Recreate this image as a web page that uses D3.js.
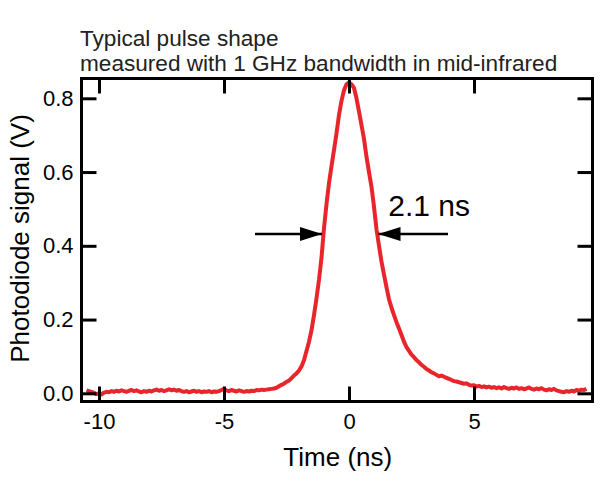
<!DOCTYPE html>
<html>
<head>
<meta charset="utf-8">
<script src="https://cdn.jsdelivr.net/npm/d3@7/dist/d3.min.js"></script>
<style>
  html, body { margin: 0; padding: 0; background: #fff; }
  svg { display: block; }
  text { font-family: "Liberation Sans", Arial, sans-serif; }
</style>
</head>
<body>
<svg id="chart" width="613" height="481"></svg>
<script>
const titleLines = ["Typical pulse shape", "measured with 1 GHz bandwidth in mid-infrared"];
const xLabel = "Time (ns)";
const yLabel = "Photodiode signal (V)";
const annotation = "2.1 ns";
const xTicks = [-10, -5, 0, 5];
const yTicks = [0.0, 0.2, 0.4, 0.6, 0.8];
const xTickLabels = ["-10", "-5", "0", "5"];
const yTickLabels = ["0.0", "0.2", "0.4", "0.6", "0.8"];
const xDomain = [-10.7, 9.74];
const yDomain = [-0.0222, 0.8537];
const fwhmLevel = 0.432;
const fwhmEdges = [-1.0, 1.1];
const arrowOuter = [-3.76, 3.96];

const time = [
-10.5,-10.4,-10.3,-10.2,-10.1,-10.0,-9.9,-9.8,-9.7,-9.6,-9.5,-9.4,-9.3,-9.2,-9.1,-9.0,-8.9,-8.8,-8.7,-8.6,
-8.5,-8.4,-8.3,-8.2,-8.1,-8.0,-7.9,-7.8,-7.7,-7.6,-7.5,-7.4,-7.3,-7.2,-7.1,-7.0,-6.9,-6.8,-6.7,-6.6,
-6.5,-6.4,-6.3,-6.2,-6.1,-6.0,-5.9,-5.8,-5.7,-5.6,-5.5,-5.4,-5.3,-5.2,-5.1,-5.0,-4.9,-4.8,-4.7,-4.6,
-4.5,-4.4,-4.3,-4.2,-4.1,-4.0,-3.9,-3.8,-3.7,-3.6,-3.5,-3.4,-3.3,-3.2,-3.1,-3.0,
-2.9,-2.8,-2.7,-2.6,-2.5,-2.4,-2.3,-2.2,-2.1,-2.0,-1.9,-1.8,-1.7,-1.6,-1.5,-1.4,-1.3,-1.2,-1.1,-1.0,
-0.9,-0.8,-0.7,-0.6,-0.5,-0.4,-0.3,-0.2,-0.1,0.0,
0.1,0.2,0.3,0.4,0.5,0.6,0.7,0.8,0.9,1.0,1.1,1.2,1.3,1.4,1.5,1.6,1.7,1.8,1.9,2.0,
2.1,2.2,2.3,2.4,2.5,2.6,2.7,2.8,2.9,3.0,3.1,3.2,3.3,3.4,3.5,3.6,3.7,3.8,3.9,4.0,4.1,4.2,4.3,
4.4,4.5,4.6,4.7,4.8,4.9,5.0,5.1,5.2,5.3,5.4,5.5,5.6,5.7,5.8,5.9,6.0,6.1,6.2,6.3,
6.4,6.5,6.6,6.7,6.8,6.9,7.0,7.1,7.2,7.3,7.4,7.5,7.6,7.7,7.8,7.9,8.0,8.1,8.2,8.3,
8.4,8.5,8.6,8.7,8.8,8.9,9.0,9.1,9.2,9.3,9.4,9.5
];

const signal = [
0.008,0.006,0.004,0.001,-0.002,0.000,-0.003,0.002,0.004,0.003,0.006,0.004,0.007,0.005,0.008,0.006,0.004,0.007,0.009,0.006,
0.008,0.005,0.003,0.006,0.004,0.007,0.005,0.008,0.010,0.007,0.009,0.006,0.008,0.011,0.008,0.010,0.007,0.009,0.006,0.004,
0.006,0.003,0.005,0.007,0.004,0.006,0.003,0.005,0.004,0.006,0.003,0.005,0.004,0.006,0.009,0.012,0.008,0.006,0.009,0.007,
0.005,0.008,0.006,0.004,0.006,0.005,0.007,0.006,0.009,0.008,0.010,0.009,0.010,0.011,0.012,0.013,
0.015,0.019,0.023,0.026,0.031,0.035,0.041,0.048,0.054,0.062,0.073,0.090,0.115,0.140,0.171,0.212,0.258,0.308,0.368,0.448,
0.513,0.570,0.616,0.660,0.705,0.755,0.793,0.822,0.838,0.843,
0.838,0.828,0.800,0.764,0.727,0.690,0.641,0.600,0.560,0.506,0.445,0.400,0.357,0.322,0.287,0.255,0.232,0.212,0.193,0.176,
0.158,0.140,0.125,0.115,0.105,0.098,0.090,0.084,0.077,0.072,0.066,0.062,0.057,0.054,0.050,0.046,0.048,0.045,0.042,0.039,0.036,0.033,0.032,
0.030,0.028,0.026,0.027,0.023,0.021,0.022,0.018,0.020,0.017,0.019,0.016,0.018,0.015,0.017,0.014,0.016,0.013,0.017,0.014,
0.012,0.015,0.013,0.016,0.012,0.014,0.011,0.013,0.016,0.012,0.010,0.013,0.011,0.014,0.010,0.008,0.011,0.009,0.012,0.008,
0.006,0.004,0.003,0.006,0.004,0.007,0.005,0.009,0.007,0.010,0.009,0.012
];

const W = 613, H = 481;
const margin = { left: 81.5, right: W - 592.5, top: 78.5, bottom: H - 401.5 };
const iw = W - margin.left - margin.right;
const ih = H - margin.top - margin.bottom;

const svg = d3.select("#chart");
const g = svg.append("g").attr("transform", `translate(${margin.left},${margin.top})`);

const x = d3.scaleLinear().domain(xDomain).range([0, iw]);
const y = d3.scaleLinear().domain(yDomain).range([ih, 0]);

// title
svg.append("g").selectAll("text").data(titleLines).join("text")
  .attr("x", 80)
  .attr("y", (d, i) => 46 + i * 25)
  .attr("fill", "#222")
  .style("font-size", "22.6px")
  .text(d => d);

// data line
const pts = time.map((t, i) => [t, signal[i]]);
g.append("path")
  .datum(pts)
  .attr("fill", "none")
  .attr("stroke", "#e8252b")
  .attr("stroke-width", 4)
  .attr("stroke-linejoin", "round")
  .attr("d", d3.line().x(d => x(d[0])).y(d => y(d[1])));

// axes
const styleAxis = sel => {
  sel.select(".domain").remove();
  sel.selectAll(".tick line").attr("stroke", "#000").attr("stroke-width", 3);
  sel.selectAll(".tick text").attr("fill", "#000").style("font-size", "22px")
     .style("font-family", '"Liberation Sans", Arial, sans-serif');
};

g.append("g").attr("transform", `translate(0,${ih})`)
  .call(d3.axisBottom(x).tickValues(xTicks).tickSize(-15).tickPadding(12)
        .tickFormat((d, i) => xTickLabels[i]))
  .call(styleAxis);
g.append("g")
  .call(d3.axisTop(x).tickValues(xTicks).tickSize(-15).tickFormat(""))
  .call(styleAxis);
g.append("g")
  .call(d3.axisLeft(y).tickValues(yTicks).tickSize(-15).tickPadding(8)
        .tickFormat((d, i) => yTickLabels[i]))
  .call(styleAxis);
g.append("g").attr("transform", `translate(${iw},0)`)
  .call(d3.axisRight(y).tickValues(yTicks).tickSize(-15).tickFormat(""))
  .call(styleAxis);

// frame
g.append("rect").attr("width", iw).attr("height", ih)
  .attr("fill", "none").attr("stroke", "#000").attr("stroke-width", 3);

// axis titles
svg.append("text")
  .attr("x", margin.left + x(-0.45)).attr("y", 466)
  .attr("text-anchor", "middle").attr("fill", "#000")
  .style("font-size", "26px").text(xLabel);
svg.append("text")
  .attr("transform", `translate(29,${margin.top + y(0.42)}) rotate(-90)`)
  .attr("text-anchor", "middle").attr("fill", "#000")
  .style("font-size", "26px").text(yLabel);

// annotation arrows
const defs = svg.append("defs");
defs.append("marker").attr("id", "ah")
  .attr("viewBox", "0 0 22 14").attr("refX", 22).attr("refY", 7)
  .attr("markerUnits", "userSpaceOnUse")
  .attr("markerWidth", 22).attr("markerHeight", 14).attr("orient", "auto")
  .append("path").attr("d", "M0,0 L22,7 L0,14 Z").attr("fill", "#000");

const ay = y(fwhmLevel);
g.append("line")
  .attr("x1", x(arrowOuter[0])).attr("x2", x(fwhmEdges[0]) - 2)
  .attr("y1", ay).attr("y2", ay)
  .attr("stroke", "#000").attr("stroke-width", 2.5).attr("marker-end", "url(#ah)");
g.append("line")
  .attr("x1", x(arrowOuter[1])).attr("x2", x(fwhmEdges[1]) + 2)
  .attr("y1", ay).attr("y2", ay)
  .attr("stroke", "#000").attr("stroke-width", 2.5).attr("marker-end", "url(#ah)");

g.append("text")
  .attr("x", x(1.57)).attr("y", y(0.48))
  .attr("fill", "#000").style("font-size", "30px")
  .text(annotation);
</script>
</body>
</html>
